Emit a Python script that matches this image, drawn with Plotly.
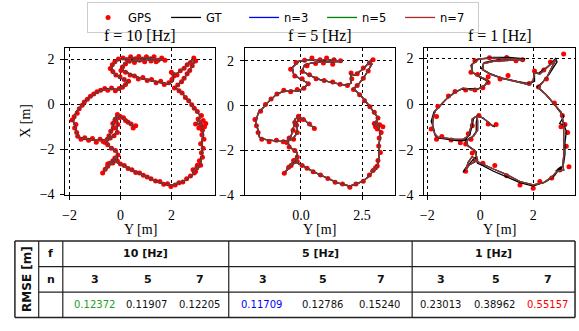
import plotly.graph_objects as go

# ---------------- data ----------------
# Ground-truth trajectory (Y [m], X [m])
GT_Y = [0.55, 0.35, 0.15, -0.1, -0.25, -0.3, -0.4, -0.6, -0.9, -1.25, -1.55, -1.7, -1.75, -1.85, -1.75, -1.55, -1.3, -1.0,
        -0.7, -0.4, -0.1, 0.15, 0.3, -0.05, -0.3, -0.35, -0.1, 0.5, 1.1, 1.7, 1.1, 0.5, 0.15, 0.05, 0.35, 0.8, 1.4, 1.85,
        2.05, 2.05, 2.2, 2.55, 2.85, 2.9, 2.6, 2.35, 2.15, 2.45, 2.75, 3.0, 3.15, 3.0, 3.2, 3.1, 3.25, 3.2, 3.2, 3.15,
        3.05, 2.85, 3.05, 2.8, 2.5, 2.0, 1.5, 1.0, 0.5, 0.1, -0.1, -0.2, -0.35, -0.55, -0.65, -0.45, -0.15, -0.15, -0.45,
        -0.55, -0.3, -0.15, -0.15, -0.1]
GT_X = [-1.0, -0.85, -0.65, -0.5, -0.62, -0.95, -1.35, -1.6, -1.6, -1.55, -1.5, -1.4, -1.1, -0.75, -0.35, -0.1, 0.2, 0.5,
        0.65, 0.68, 0.65, 0.8, 1.0, 1.2, 1.4, 1.7, 1.97, 2.05, 2.05, 1.98, 1.95, 1.92, 1.82, 1.55, 1.35, 1.15, 1.0, 0.9,
        1.0, 1.4, 1.35, 1.65, 2.0, 1.85, 1.3, 0.95, 0.75, 0.45, 0.05, -0.3, -0.55, -0.85, -0.95, -0.7, -1.2, -1.7, -2.2,
        -2.6, -2.85, -2.95, -2.75, -3.15, -3.4, -3.6, -3.45, -3.2, -2.95, -2.7, -2.6, -2.35, -2.55, -2.8, -3.0, -2.7, -2.5,
        -2.1, -1.85, -1.6, -1.45, -1.2, -0.8, -0.5]

# Estimated trajectory at 1 Hz (all n nearly coincide)
EST1 = [(0.5, -1.0), (0.3, -0.82), (0.1, -0.6), (-0.12, -0.52), (-0.3, -0.65), (-0.35, -1.0), (-0.45, -1.4), (-0.65, -1.55),
        (-0.95, -1.55), (-1.3, -1.5), (-1.6, -1.45), (-1.72, -1.3), (-1.8, -1.0), (-1.78, -0.6), (-1.7, -0.3), (-1.5, -0.05),
        (-1.25, 0.25), (-0.95, 0.52), (-0.65, 0.7), (-0.35, 0.62), (-0.05, 0.68), (0.2, 0.85), (0.28, 1.05), (-0.1, 1.25),
        (-0.32, 1.42), (-0.3, 1.75), (-0.05, 1.98), (0.5, 2.02), (1.1, 2.0), (1.65, 1.95), (1.1, 1.92), (0.5, 1.88),
        (0.12, 1.78), (0.1, 1.5), (0.4, 1.3), (0.85, 1.12), (1.4, 0.98), (1.85, 0.85), (2.0, 1.05), (2.05, 1.38),
        (2.25, 1.32), (2.6, 1.7), (2.85, 1.95), (2.55, 1.25), (2.3, 0.9), (2.2, 0.72), (2.5, 0.4), (2.8, 0.0),
        (3.05, -0.35), (3.1, -0.6), (3.15, -0.9), (3.15, -1.3), (3.15, -1.8), (3.15, -2.3), (3.12, -2.65), (3.15, -2.9),
        (2.9, -2.95), (2.7, -3.2), (2.4, -3.45), (2.0, -3.55), (1.5, -3.4), (1.0, -3.1), (0.5, -2.85), (0.05, -2.6),
        (-0.15, -2.5), (-0.3, -2.3), (-0.45, -2.55), (-0.55, -2.9), (-0.4, -2.65), (-0.1, -2.45), (-0.2, -2.05),
        (-0.5, -1.8), (-0.5, -1.6), (-0.25, -1.4), (-0.1, -1.15), (-0.1, -0.75), (-0.12, -0.52)]

GPS_10 = [(0.6, -0.95), (0.5, -1.05), (0.42, -0.88), (0.3, -0.8), (0.2, -0.72), (0.12, -0.6), (0.0, -0.55), (-0.12, -0.45),
          (-0.08, -0.58), (-0.22, -0.7), (-0.3, -0.85), (-0.28, -1.05), (-0.38, -1.2), (-0.45, -1.4), (-0.52, -1.55),
          (-0.68, -1.65), (-0.8, -1.55), (-0.95, -1.68), (-1.1, -1.52), (-1.25, -1.6), (-1.4, -1.48), (-1.55, -1.55),
          (-1.68, -1.42), (-1.72, -1.25), (-1.8, -1.05), (-1.75, -0.9), (-1.9, -0.7), (-1.82, -0.55), (-1.7, -0.4),
          (-1.62, -0.2), (-1.5, -0.05), (-1.42, 0.1), (-1.3, 0.22), (-1.18, 0.35), (-1.05, 0.45), (-0.92, 0.55),
          (-0.78, 0.62), (-0.62, 0.7), (-0.5, 0.62), (-0.35, 0.72), (-0.2, 0.6), (-0.05, 0.7), (0.08, 0.75), (0.2, 0.88),
          (0.32, 1.02), (0.15, 1.1), (-0.02, 1.22), (-0.18, 1.3), (-0.3, 1.45), (-0.4, 1.58), (-0.32, 1.75), (-0.22, 1.88),
          (-0.08, 2.0), (0.1, 2.05), (0.25, 1.98), (0.4, 2.1), (0.58, 2.02), (0.72, 2.12), (0.88, 2.0), (1.02, 2.1),
          (1.18, 2.02), (1.32, 2.1), (1.48, 1.95), (1.62, 2.05), (1.75, 1.95), (1.4, 1.88), (1.2, 1.92), (0.95, 1.88),
          (0.75, 1.95), (0.55, 1.85), (0.35, 1.9), (0.2, 1.78), (0.08, 1.65), (0.02, 1.5), (0.2, 1.42), (0.38, 1.3),
          (0.55, 1.25), (0.7, 1.12), (0.88, 1.18), (1.05, 1.05), (1.22, 1.1), (1.4, 0.95), (1.58, 1.02), (1.72, 0.88),
          (1.9, 0.95), (2.02, 1.1), (2.1, 1.25), (2.0, 1.42), (2.22, 1.3), (2.35, 1.48), (2.5, 1.6), (2.62, 1.75),
          (2.75, 1.85), (2.88, 2.05), (2.95, 1.92), (2.82, 1.7), (2.72, 1.5), (2.62, 1.35), (2.5, 1.15), (2.4, 1.0),
          (2.25, 0.85), (2.12, 0.72), (2.3, 0.6), (2.42, 0.5), (2.55, 0.3), (2.68, 0.15), (2.8, -0.02), (2.9, -0.18),
          (3.02, -0.32), (3.18, -0.5), (3.05, -0.65), (3.25, -0.72), (2.95, -0.88), (3.15, -0.9), (3.3, -1.0),
          (3.08, -1.05), (3.22, -1.15), (3.35, -0.85), (3.2, -1.35), (3.28, -1.55), (3.15, -1.75), (3.25, -1.95),
          (3.18, -2.15), (3.22, -2.35), (3.1, -2.5), (3.15, -2.7), (3.0, -2.82), (2.85, -2.9), (2.95, -2.98), (3.02, -2.7),
          (2.9, -3.05), (2.75, -3.18), (2.6, -3.3), (2.45, -3.45), (2.3, -3.48), (2.15, -3.58), (1.98, -3.65),
          (1.85, -3.52), (1.7, -3.55), (1.55, -3.42), (1.38, -3.4), (1.2, -3.3), (1.05, -3.22), (0.9, -3.15),
          (0.75, -3.05), (0.6, -3.02), (0.45, -2.9), (0.3, -2.85), (0.15, -2.72), (0.0, -2.65), (-0.12, -2.52),
          (-0.22, -2.38), (-0.3, -2.5), (-0.42, -2.62), (-0.5, -2.75), (-0.6, -2.88), (-0.7, -3.05), (-0.5, -2.65),
          (-0.3, -2.6), (-0.18, -2.42), (-0.1, -2.25), (-0.2, -2.05), (-0.35, -1.95), (-0.5, -1.8), (-0.6, -1.7),
          (-0.4, -1.5), (-0.25, -1.4), (-0.12, -1.25), (-0.2, -1.05), (-0.1, -0.9), (-0.18, -0.75), (-0.05, -0.6)]

GPS_5 = [(0.55, -1.02), (0.35, -0.82), (0.1, -0.62), (-0.1, -0.48), (-0.25, -0.75), (-0.32, -1.1), (-0.48, -1.45),
         (-0.72, -1.62), (-1.0, -1.55), (-1.3, -1.62), (-1.6, -1.5), (-1.75, -1.2), (-1.82, -0.9), (-1.88, -0.62),
         (-1.65, -0.25), (-1.45, 0.05), (-1.22, 0.3), (-0.98, 0.52), (-0.7, 0.68), (-0.42, 0.62), (-0.15, 0.72),
         (0.12, 0.78), (0.3, 0.98), (0.05, 1.2), (-0.25, 1.32), (-0.42, 1.62), (-0.2, 1.92), (0.15, 2.02), (0.45, 2.12),
         (0.78, 2.05), (1.05, 2.12), (1.35, 2.05), (1.62, 2.0), (1.3, 1.85), (0.92, 1.9), (0.6, 1.88), (0.25, 1.78),
         (0.05, 1.52), (0.35, 1.38), (0.62, 1.2), (0.95, 1.12), (1.3, 1.05), (1.6, 0.95), (1.9, 0.9), (2.08, 1.2),
         (2.05, 1.45), (2.3, 1.42), (2.55, 1.68), (2.8, 1.9), (2.95, 2.05), (2.75, 1.55), (2.55, 1.22), (2.3, 0.9),
         (2.15, 0.72), (2.4, 0.48), (2.6, 0.22), (2.82, -0.05), (3.0, -0.3), (3.15, -0.55), (3.0, -0.8), (3.22, -0.85),
         (3.35, -0.95), (3.12, -1.05), (3.28, -1.2), (3.05, -0.95), (3.2, -1.45), (3.18, -1.8), (3.25, -2.1),
         (3.15, -2.45), (3.12, -2.7), (2.95, -2.9), (3.05, -2.78), (2.8, -3.1), (2.55, -3.38), (2.25, -3.5), (2.0, -3.65),
         (1.7, -3.5), (1.4, -3.42), (1.1, -3.25), (0.8, -3.1), (0.5, -2.95), (0.25, -2.8), (0.05, -2.68), (-0.15, -2.5),
         (-0.3, -2.45), (-0.5, -2.75), (-0.68, -3.02), (-0.4, -2.68), (-0.15, -2.3), (-0.25, -2.0), (-0.48, -1.85),
         (-0.58, -1.65), (-0.3, -1.5), (-0.15, -1.2), (-0.18, -0.88), (-0.05, -0.62)]

GPS_1 = [(0.6, -0.9), (0.3, -0.88), (-0.05, -0.5), (-0.3, -0.95), (-0.45, -1.3), (-0.75, -1.7), (-1.1, -1.58),
         (-1.45, -1.42), (-1.65, -1.55), (-1.85, -1.1), (-1.65, -0.55), (-1.6, -0.1), (-1.2, 0.35), (-0.95, 0.55),
         (-0.55, 0.62), (-0.2, 0.62), (0.1, 0.72), (0.3, 0.95), (-0.1, 1.3), (-0.35, 1.4), (-0.2, 1.9), (0.35, 2.03),
         (0.7, 1.95), (1.0, 2.05), (1.35, 1.9), (1.6, 1.95), (1.05, 1.25), (0.75, 1.1), (0.3, 1.2), (1.85, 0.9),
         (2.05, 1.45), (2.4, 1.5), (2.65, 1.85), (3.15, 2.2), (2.5, 1.1), (2.2, 0.75), (2.8, 0.05), (3.1, -0.5),
         (3.2, -0.9), (3.05, -1.0), (3.3, -1.25), (3.25, -1.85), (3.35, -2.75), (3.0, -2.9), (2.7, -3.25), (2.25, -3.4),
         (2.0, -3.7), (1.5, -3.55), (1.0, -3.15), (0.55, -2.7), (0.1, -2.6), (-0.2, -2.45), (-0.55, -2.95),
         (-0.3, -2.15), (-0.55, -1.75), (-0.35, -1.55)]

PANEL_TITLES = ["f = 10 [Hz]", "f = 5 [Hz]", "f = 1 [Hz]"]
X_TICKVALS = [[-2, 0, 2], [0, 2.5], [-2, 0, 2]]
X_TICKTEXT = [["−2", "0", "2"], ["0.0", "2.5"], ["−2", "0", "2"]]
Y_TICKVALS = [2, 0, -2, -4]
Y_TICKTEXT = ["2", "0", "−2", "−4"]

FREQS = ["10 [Hz]", "5 [Hz]", "1 [Hz]"]
NS = ["3", "5", "7"]
RMSE = [["0.12372", "0.11907", "0.12205"],
        ["0.11709", "0.12786", "0.15240"],
        ["0.23013", "0.38962", "0.55157"]]
RMSE_COLORS = [["#22a022", "#111111", "#111111"],
               ["#0000ff", "#111111", "#111111"],
               ["#111111", "#111111", "#ff0000"]]

# ---------------- layout helpers ----------------
W, H = 579, 331
def px(x):
    return x / W
def py(y):
    return 1 - y / H

fig = go.Figure()

panels_px = [(61, 212), (242, 393), (423, 575)]
top_px, bot_px = 49, 200
xranges = [[-2.16, 3.72], [-2.29, 3.83], [-2.11, 3.58]]
yranges = [[-4.03, 2.5], [-4.0, 2.58], [-4.0, 2.47]]

COL_GPS = "#ff0000"
COL_GT = "#000000"
COL_N = {"3": "#0000ff", "5": "#008000", "7": "#a52a2a"}

gps_sets = [GPS_10, GPS_5, GPS_1]
for i in range(3):
    ax = "" if i == 0 else str(i + 1)
    xa, ya = "x" + ax, "y" + ax
    show = (i == 0)
    g = gps_sets[i]
    fig.add_trace(go.Scatter(x=[p[0] for p in g], y=[p[1] for p in g], mode="markers",
                             marker=dict(color=COL_GPS, size=5, line=dict(width=0)),
                             name="GPS", showlegend=show, xaxis=xa, yaxis=ya))
    fig.add_trace(go.Scatter(x=GT_Y, y=GT_X, mode="lines", line=dict(color=COL_GT, width=1.3),
                             name="GT", showlegend=show, xaxis=xa, yaxis=ya))
    for n in NS:
        if i < 2:
            ex, ey = GT_Y, GT_X
        else:
            ex, ey = [p[0] for p in EST1], [p[1] for p in EST1]
        fig.add_trace(go.Scatter(x=ex, y=ey, mode="lines", line=dict(color=COL_N[n], width=1.3),
                                 name="n=" + n, showlegend=show, xaxis=xa, yaxis=ya))

axis_common = dict(showline=True, linecolor="black", linewidth=1.2, mirror=True,
                   ticks="outside", ticklen=4, tickcolor="black", tickwidth=1,
                   showgrid=True, gridcolor="black", griddash="dot", gridwidth=0.8,
                   zeroline=False, tickfont=dict(family="Liberation Serif", size=14, color="black"))

layout = dict(width=W, height=H, margin=dict(l=0, r=0, t=0, b=0),
              plot_bgcolor="white", paper_bgcolor="white")
for i in range(3):
    ax = "" if i == 0 else str(i + 1)
    x0, x1 = panels_px[i]
    layout["xaxis" + ax] = dict(axis_common, domain=[px(x0), px(x1)], range=xranges[i],
                                tickvals=X_TICKVALS[i], ticktext=X_TICKTEXT[i],
                                anchor="y" + ax, ticklabelstandoff=3)
    layout["yaxis" + ax] = dict(axis_common, domain=[py(bot_px), py(top_px)], range=yranges[i],
                                tickvals=Y_TICKVALS, ticktext=Y_TICKTEXT,
                                anchor="x" + ax, ticklabelstandoff=3)
fig.update_layout(**layout)

fig.update_layout(legend=dict(orientation="h", x=px(280.5), xanchor="center", y=py(2), yanchor="top",
                              bordercolor="#cccccc", borderwidth=1, bgcolor="white",
                              font=dict(family="DejaVu Sans", size=11.5, color="black"),
                              entrywidth=33, tracegroupgap=0))

ann = []
for i in range(3):
    x0, x1 = panels_px[i]
    cx = (x0 + x1) / 2
    ann.append(dict(x=px(cx), y=py(36), xref="paper", yref="paper", text=PANEL_TITLES[i], showarrow=False,
                    font=dict(family="Liberation Serif", size=16, color="black"), xanchor="center", yanchor="middle"))
    ann.append(dict(x=px(cx), y=py(235), xref="paper", yref="paper", text="Y [m]", showarrow=False,
                    font=dict(family="Liberation Serif", size=14, color="black"), xanchor="center", yanchor="middle"))
ann.append(dict(x=px(20), y=py(124), xref="paper", yref="paper", text="X [m]", showarrow=False, textangle=-90,
                font=dict(family="Liberation Serif", size=14, color="black"), xanchor="center", yanchor="middle"))

# ---------------- table ----------------
tfont = dict(family="DejaVu Sans", size=10, color="#111111")
hfont = dict(family="DejaVu Sans", size=11, color="#111111")
T_TOP, R1, R2, T_BOT = 247, 273.3, 299.3, 325.3
T_L, C1, C2, T_R = 10, 34, 58.3, 575
GROUP_X = [(58.3, 225.7), (225.7, 410.7), (410.7, 575)]
SUB_X = [[90, 143, 196], [259, 320, 378], [439, 494, 547]]
shapes = []
def hline(y, xa, xb, w):
    shapes.append(dict(type="line", xref="paper", yref="paper", x0=px(xa), x1=px(xb), y0=py(y), y1=py(y),
                       line=dict(color="#222222", width=w)))
def vline(x, ya, yb, w):
    shapes.append(dict(type="line", xref="paper", yref="paper", x0=px(x), x1=px(x), y0=py(ya), y1=py(yb),
                       line=dict(color="#222222", width=w)))
hline(T_TOP, T_L, T_R, 1.5)
hline(T_BOT, T_L, T_R, 1.5)
hline(R1, C1, T_R, 1.2)
hline(R2, C1, T_R, 1.2)
for x in [T_L, T_R]:
    vline(x, T_TOP, T_BOT, 1.5)
for x in [C1, C2, GROUP_X[0][1], GROUP_X[1][1]]:
    vline(x, T_TOP, T_BOT, 1.2)

ann.append(dict(x=px(22), y=py(286), xref="paper", yref="paper", text="<b>RMSE [m]</b>", showarrow=False,
                textangle=-90, font=dict(hfont, size=12), xanchor="center", yanchor="middle"))
ann.append(dict(x=px(46), y=py(260), xref="paper", yref="paper", text="<b>f</b>", showarrow=False,
                font=hfont, xanchor="center", yanchor="middle"))
ann.append(dict(x=px(46), y=py(286), xref="paper", yref="paper", text="<b>n</b>", showarrow=False,
                font=hfont, xanchor="center", yanchor="middle"))
for g in range(3):
    gx = (GROUP_X[g][0] + GROUP_X[g][1]) / 2
    ann.append(dict(x=px(gx), y=py(260), xref="paper", yref="paper", text="<b>" + FREQS[g] + "</b>",
                    showarrow=False, font=hfont, xanchor="center", yanchor="middle"))
    for k in range(3):
        ann.append(dict(x=px(SUB_X[g][k] + 1), y=py(286), xref="paper", yref="paper", text="<b>" + NS[k] + "</b>",
                        showarrow=False, font=hfont, xanchor="center", yanchor="middle"))
        ann.append(dict(x=px(SUB_X[g][k]), y=py(312), xref="paper", yref="paper", text=RMSE[g][k],
                        showarrow=False, font=dict(tfont, color=RMSE_COLORS[g][k]),
                        xanchor="center", yanchor="middle"))

fig.update_layout(annotations=ann, shapes=shapes)
fig.write_html("out.html")
